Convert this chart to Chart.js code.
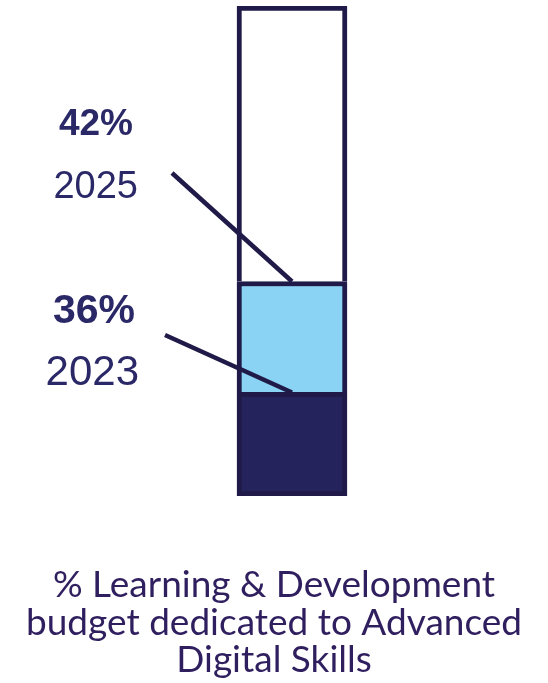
<!DOCTYPE html>
<html>
<head>
<meta charset="utf-8">
<script src="https://cdn.jsdelivr.net/npm/chart.js@4/dist/chart.umd.min.js"></script>
<style>
  html, body { margin: 0; padding: 0; background: #fff; }
  #wrap { width: 548px; height: 683px; position: relative; }
</style>
</head>
<body>
<div id="wrap"><canvas id="budgetChart"></canvas></div>
<script>
// --- Data -------------------------------------------------------------------
const categories = ["L&D budget"];
const years = ["2023", "2025"];
const shares = [36, 42];            // % of L&D budget on advanced digital skills
const axisRange = [30.4, 56.9];     // visible span of the bar frame
const titleLines = ["% Learning & Development", "budget dedicated to Advanced", "Digital Skills"];

const C = { frame: "#1f1a47", navy: "#25235b", sky: "#8bd3f4", ink: "#2a2866", title: "#2f1f5f" };

// segment borders: only the bottom one closes the frame at the base
const sideBorder = { top: 5, left: 5, right: 5, bottom: 0 };
const fullBorder = { top: 5, left: 5, right: 5, bottom: 5 };

// --- Labels + leader lines -------------------------------------------------
const annotations = {
  id: "annotations",
  afterDatasetsDraw(chart) {
    const { ctx, scales: { x, y } } = chart;
    const cx = x.getPixelForValue(0);
    ctx.save();
    ctx.strokeStyle = C.frame;
    ctx.lineWidth = 4.5;
    ctx.lineCap = "butt";
    // leader lines from the year labels down to each boundary
    [[172, 173, shares[1]], [165, 335, shares[0]]].forEach(([sx, sy, v]) => {
      ctx.beginPath();
      ctx.moveTo(sx, sy);
      ctx.lineTo(cx, y.getPixelForValue(v));
      ctx.stroke();
    });

    ctx.fillStyle = C.ink;
    ctx.textAlign = "right";
    ctx.textBaseline = "alphabetic";
    ctx.font = "bold 37px 'Liberation Sans', Arial, sans-serif";
    ctx.fillText(shares[1] + "%", 133, 135);
    ctx.font = "38px 'Liberation Sans', Arial, sans-serif";
    ctx.fillText(years[1], 138, 198);
    ctx.font = "bold 41px 'Liberation Sans', Arial, sans-serif";
    ctx.fillText(shares[0] + "%", 135, 323);
    ctx.font = "42px 'Liberation Sans', Arial, sans-serif";
    ctx.fillText(years[0], 139, 385);

    // caption under the bar
    ctx.fillStyle = C.title;
    ctx.textAlign = "center";
    ctx.font = "37px Lato, sans-serif";
    titleLines.forEach((t, i) => ctx.fillText(t, 274, 597 + i * 37.5));
    ctx.restore();
  },
};

new Chart(document.getElementById("budgetChart"), {
  type: "bar",
  data: {
    labels: categories,
    datasets: [
      {
        label: years[0],
        data: [[axisRange[0], shares[0]]],
        backgroundColor: C.navy,
        borderColor: C.frame,
        borderWidth: fullBorder,
      },
      {
        label: years[1],
        data: [[shares[0], shares[1]]],
        backgroundColor: C.sky,
        borderColor: C.frame,
        borderWidth: sideBorder,
      },
      {
        label: "rest",
        data: [[shares[1], axisRange[1]]],
        backgroundColor: "#ffffff",
        borderColor: C.frame,
        borderWidth: sideBorder,
      },
    ],
  },
  options: {
    responsive: true,
    maintainAspectRatio: false,
    animation: false,
    grouped: false,
    borderSkipped: false,
    barThickness: 110,
    layout: { padding: { left: 36, right: 0, top: 6, bottom: 187 } },
    plugins: { legend: { display: false }, tooltip: { enabled: false } },
    scales: {
      x: { display: false },
      y: { display: false, min: axisRange[0], max: axisRange[1] },
    },
  },
  plugins: [annotations],
});
</script>
</body>
</html>
